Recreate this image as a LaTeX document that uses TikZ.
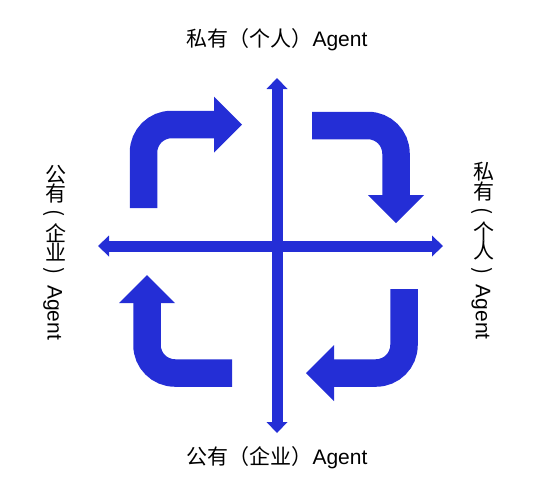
\documentclass[tikz,border=0pt]{standalone}
\usepackage{fontspec}
\usepackage{graphicx}
\usepackage{tikz}
\usetikzlibrary{arrows.meta}
\setmainfont{Liberation Sans}
\newfontfamily\cjk{Noto Sans CJK SC}
\definecolor{ColBlue}{RGB}{36,46,214}
\newcommand{\Up}[1]{\rotatebox[origin=c]{90}{#1}}
\newcommand{\Paren}[1]{\makebox[1em][c]{#1}}
\tikzstyle{LabelText}=[font=\fontsize{21}{25}\selectfont,inner sep=0pt,text=black]
\tikzstyle{AxisArrow}=[ColBlue,line width=11pt,
{Triangle[length=11pt,width=21pt,line width=0pt]}-{Triangle[length=11pt,width=21pt,line width=0pt]}]
\tikzstyle{TurnArrow}=[ColBlue,line width=27.5pt,rounded corners=28pt,
-{Triangle[length=28pt,width=56pt,line width=0pt]}]

\begin{document}
\begin{tikzpicture}[x=1pt,y=-1pt]
        \useasboundingbox(0,0)rectangle(553,491);
        % axes
        \coordinate(v-top)at(277,78);
        \coordinate(v-bot)at(277,433);
        \coordinate(h-left)at(98,246);
        \coordinate(h-right)at(443,246);
        \draw[AxisArrow](v-bot)--(v-top);
        \draw[AxisArrow](h-left)--(h-right);
        % turning arrows
        \coordinate(tl-tail)at(143.5,208);
        \coordinate(tl-tip)at(242,124.5);
        \coordinate(tr-tail)at(312,125.5);
        \coordinate(tr-tip)at(396,223);
        \coordinate(br-tail)at(404,289);
        \coordinate(br-tip)at(306,373);
        \coordinate(bl-tail)at(232,373);
        \coordinate(bl-tip)at(147,275);
        \draw[TurnArrow](tl-tail)|-(tl-tip);
        \draw[TurnArrow](tr-tail)-|(tr-tip);
        \draw[TurnArrow](br-tail)|-(br-tip);
        \draw[TurnArrow](bl-tail)-|(bl-tip);
        % labels
        \node[LabelText](lbl-top)at(277,40){{\cjk 私有（个人）}Agent};
        \node[LabelText](lbl-bot)at(277,458){{\cjk 公有（企业）}Agent};
        \node[LabelText,rotate=-90](lbl-left)at(55,252.5){{\cjk\Up{公}\Up{有}\Paren{(}\Up{企}\Up{业}\Paren{)}}\,Agent};
        \node[LabelText,rotate=-90](lbl-right)at(483,251){{\cjk\Up{私}\Up{有}\Paren{(}\Up{个}\Up{人}\Paren{)}}\,Agent};
    \end{tikzpicture}
\end{document}
